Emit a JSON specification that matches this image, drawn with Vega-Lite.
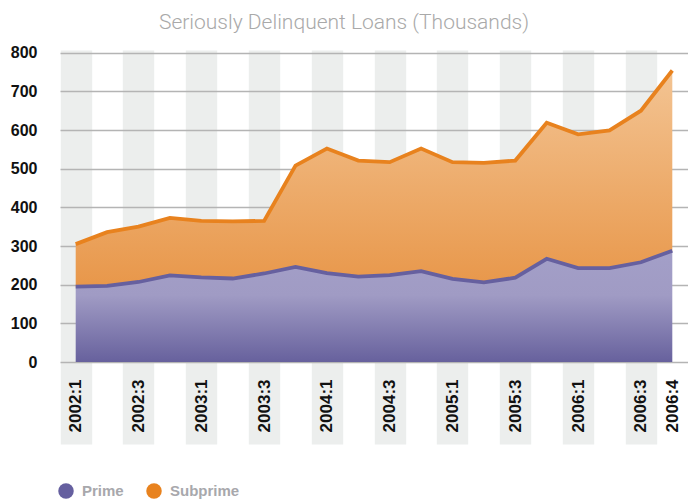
{
  "$schema": "https://vega.github.io/schema/vega-lite/v6.json",
  "width": 628,
  "height": 394,
  "autosize": {"type": "none"},
  "padding": {"left": 60, "top": 50, "right": 0, "bottom": 60},
  "background": "white",
  "title": {
    "text": "Seriously Delinquent Loans (Thousands)",
    "font": "Roboto, Liberation Sans, sans-serif",
    "fontSize": 21,
    "fontWeight": 300,
    "color": "#a9a9a9",
    "anchor": "middle",
    "frame": "group",
    "dx": -30,
    "offset": 12
  },
  "data": {
    "values": [
      {"quarter": "2002:1", "series": "Prime", "value": 195},
      {"quarter": "2002:2", "series": "Prime", "value": 197},
      {"quarter": "2002:3", "series": "Prime", "value": 207},
      {"quarter": "2002:4", "series": "Prime", "value": 224},
      {"quarter": "2003:1", "series": "Prime", "value": 219},
      {"quarter": "2003:2", "series": "Prime", "value": 216},
      {"quarter": "2003:3", "series": "Prime", "value": 229},
      {"quarter": "2003:4", "series": "Prime", "value": 246},
      {"quarter": "2004:1", "series": "Prime", "value": 230},
      {"quarter": "2004:2", "series": "Prime", "value": 221},
      {"quarter": "2004:3", "series": "Prime", "value": 225},
      {"quarter": "2004:4", "series": "Prime", "value": 235},
      {"quarter": "2005:1", "series": "Prime", "value": 215},
      {"quarter": "2005:2", "series": "Prime", "value": 206},
      {"quarter": "2005:3", "series": "Prime", "value": 218},
      {"quarter": "2005:4", "series": "Prime", "value": 267},
      {"quarter": "2006:1", "series": "Prime", "value": 243},
      {"quarter": "2006:2", "series": "Prime", "value": 243},
      {"quarter": "2006:3", "series": "Prime", "value": 258},
      {"quarter": "2006:4", "series": "Prime", "value": 288},
      {"quarter": "2002:1", "series": "Subprime", "value": 110},
      {"quarter": "2002:2", "series": "Subprime", "value": 139},
      {"quarter": "2002:3", "series": "Subprime", "value": 143},
      {"quarter": "2002:4", "series": "Subprime", "value": 149},
      {"quarter": "2003:1", "series": "Subprime", "value": 146},
      {"quarter": "2003:2", "series": "Subprime", "value": 148},
      {"quarter": "2003:3", "series": "Subprime", "value": 136},
      {"quarter": "2003:4", "series": "Subprime", "value": 262},
      {"quarter": "2004:1", "series": "Subprime", "value": 322},
      {"quarter": "2004:2", "series": "Subprime", "value": 300},
      {"quarter": "2004:3", "series": "Subprime", "value": 292},
      {"quarter": "2004:4", "series": "Subprime", "value": 317},
      {"quarter": "2005:1", "series": "Subprime", "value": 302},
      {"quarter": "2005:2", "series": "Subprime", "value": 309},
      {"quarter": "2005:3", "series": "Subprime", "value": 303},
      {"quarter": "2005:4", "series": "Subprime", "value": 352},
      {"quarter": "2006:1", "series": "Subprime", "value": 346},
      {"quarter": "2006:2", "series": "Subprime", "value": 356},
      {"quarter": "2006:3", "series": "Subprime", "value": 392},
      {"quarter": "2006:4", "series": "Subprime", "value": 466}
    ]
  },
  "transform": [
    {"stack": "value", "groupby": ["quarter"], "sort": [{"field": "series", "order": "ascending"}], "as": ["v0", "v1"]}
  ],
  "encoding": {
    "x": {
      "field": "quarter",
      "type": "ordinal",
      "sort": null,
      "scale": {"type": "point", "padding": 0.5},
      "axis": {
        "title": null,
        "labelAngle": -90,
        "labelAlign": "right",
        "labelBaseline": "middle",
        "labelFont": "Liberation Sans, sans-serif",
        "labelFontWeight": "bold",
        "labelFontSize": 17,
        "labelColor": "#111111",
        "labelPadding": -65,
        "labelOverlap": false,
        "labelBound": false,
        "labelFlush": false,
        "labelExpr": "(substring(datum.value, 5, 6) == '1' || substring(datum.value, 5, 6) == '3' || datum.value == '2006:4') ? datum.value : ''",
        "ticks": false,
        "domain": false,
        "grid": true,
        "gridColor": "#eceeed",
        "gridWidth": 31.4,
        "gridOpacity": {"condition": {"test": "substring(datum.value, 5, 6) == '1' || substring(datum.value, 5, 6) == '3'", "value": 1}, "value": 0}
      }
    },
    "y": {
      "field": "v1",
      "type": "quantitative",
      "scale": {"domain": [-212, 807], "nice": false, "zero": false},
      "axis": {
        "title": null,
        "values": [0, 100, 200, 300, 400, 500, 600, 700, 800],
        "labelFont": "Liberation Sans, sans-serif",
        "labelFontWeight": "bold",
        "labelFontSize": 16,
        "labelColor": "#111111",
        "labelPadding": 23,
        "ticks": false,
        "domain": false,
        "grid": true,
        "gridColor": "#b4b4b4",
        "gridWidth": 1.5
      }
    }
  },
  "layer": [
    {
      "transform": [{"filter": "datum.series == 'Prime'"}],
      "mark": {
        "type": "area",
        "fill": {"gradient": "linear", "x1": 0, "y1": 0, "x2": 0, "y2": 1,
          "stops": [{"offset": 0, "color": "#a39fc8"}, {"offset": 0.4, "color": "#a09bc4"}, {"offset": 1, "color": "#67619d"}]}
      },
      "encoding": {"y2": {"field": "v0"}}
    },
    {
      "transform": [{"filter": "datum.series == 'Subprime'"}],
      "mark": {
        "type": "area",
        "fill": {"gradient": "linear", "x1": 0, "y1": 0, "x2": 0, "y2": 1,
          "stops": [{"offset": 0, "color": "#f3c493"}, {"offset": 1, "color": "#e8974a"}]}
      },
      "encoding": {"y2": {"field": "v0"}}
    },
    {
      "transform": [{"filter": "datum.series == 'Prime'"}],
      "mark": {"type": "line", "stroke": "#66609f", "strokeWidth": 3.8},
      "encoding": {}
    },
    {
      "transform": [{"filter": "datum.series == 'Subprime'"}],
      "mark": {"type": "line", "stroke": "#e8821e", "strokeWidth": 3.8},
      "encoding": {}
    },
    {
      "mark": {"type": "circle", "size": 0},
      "encoding": {
        "color": {
          "field": "series",
          "type": "nominal",
          "scale": {"domain": ["Prime", "Subprime"], "range": ["#655f9f", "#e8821e"]},
          "legend": {
            "title": null,
            "orient": "none",
            "legendX": -2,
            "legendY": 433,
            "direction": "horizontal",
            "symbolType": "circle",
            "symbolSize": 240,
            "symbolStrokeWidth": 0,
            "symbolOpacity": 1,
            "labelFont": "Liberation Sans, sans-serif",
            "labelFontSize": 15,
            "labelFontWeight": "bold",
            "labelColor": "#a8a8ac",
            "labelOffset": 8,
            "columnPadding": 22,
            "padding": 0
          }
        }
      }
    }
  ],
  "config": {"view": {"stroke": null}}
}
